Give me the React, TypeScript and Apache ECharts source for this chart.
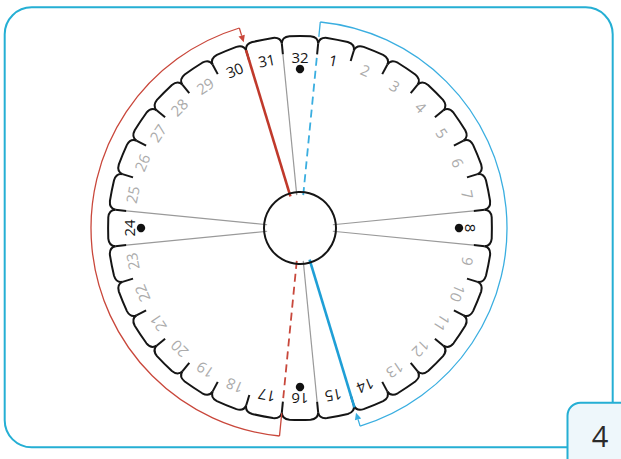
import { useEffect, useRef } from 'react';
import * as echarts from 'echarts';

// ---- data ----
const segmentLabels = ['1','2','3','4','5','6','7','8','9','10','11','12','13','14','15','16','17','18','19','20','21','22','23','24','25','26','27','28','29','30','31','32'];
const darkLabels = ['30','31','32','1','8','14','15','16','17','24'];
const dotSegments = ['8','16','24','32'];
const grayBoundaries = [7.5, 8.5, 15.5, 23.5, 24.5, 31.5];
const redSolidBoundaries = [30.5];
const redDashedBoundaries = [16.5];
const blueSolidBoundaries = [14.5];
const blueDashedBoundaries = [0.5];
const redArc = [16.5, 30.5]; // clockwise from -> to (arrow at "to")
const blueArc = [0.5, 14.5];
const pageLabel = '4';

// ---- styling / layout ----
const N = segmentLabels.length;
const R = { hub: 36, spokeIn: 33, notchIn: 174.5, v: 185.5, top: 192, label: 171, dot: 159 };
const ARC = { red: 209, blue: 207 };
const RED = '#c0392b';
const RED_ARC = '#c9473b';
const BLUE = '#1f9fd6';
const BLUE_ARC = '#3aaee0';
const FRAME = '#25afd4';

const spokeStyles: Record<string, any> = {
  gray: { stroke: '#9a9a9a', lineWidth: 1.2, r1: R.notchIn },
  redSolid: { stroke: RED, lineWidth: 2.6, r1: R.v + 0.5 },
  redDashed: { stroke: '#c8483c', lineWidth: 1.8, r1: R.notchIn, lineDash: [8, 5] },
  blueSolid: { stroke: BLUE, lineWidth: 2.6, r1: R.v + 2 },
  blueDashed: { stroke: BLUE_ARC, lineWidth: 1.8, r1: R.notchIn, lineDash: [8, 5] },
};

const spokes = [
  ...grayBoundaries.map((b) => ({ b, kind: 'gray' })),
  ...redSolidBoundaries.map((b) => ({ b, kind: 'redSolid' })),
  ...redDashedBoundaries.map((b) => ({ b, kind: 'redDashed' })),
  ...blueSolidBoundaries.map((b) => ({ b, kind: 'blueSolid' })),
  ...blueDashedBoundaries.map((b) => ({ b, kind: 'blueDashed' })),
];

const arcs = [
  { range: redArc, r: ARC.red, color: RED_ARC, startEnd: R.v + 0.5, arrowEnd: 194 },
  { range: blueArc, r: ARC.blue, color: BLUE_ARC, startEnd: 192, arrowEnd: 193 },
];

const wrap = (a: number) => ((a % N) + N) % N;

export default function App() {
  const ref = useRef<HTMLDivElement>(null);
  useEffect(() => {
    const chart = echarts.init(ref.current!, null, { renderer: 'svg' });
    const mk = (api: any) => (r: number, a: number) => api.coord([r, wrap(a)]);
    const fmt = (p: number[]) => `${p[0].toFixed(2)} ${p[1].toFixed(2)}`;

    const option: any = {
      animation: false,
      polar: { center: [300, 228], radius: 230 },
      angleAxis: {
        type: 'value', min: 0, max: N, startAngle: 90, clockwise: true,
        axisLine: { show: false }, axisTick: { show: false }, axisLabel: { show: false }, splitLine: { show: false },
      },
      radiusAxis: {
        type: 'value', min: 0, max: 230,
        axisLine: { show: false }, axisTick: { show: false }, axisLabel: { show: false }, splitLine: { show: false },
      },
      graphic: [
        { type: 'rect', shape: { x: 4.7, y: 7.3, width: 608, height: 440, r: 27 }, style: { fill: 'none', stroke: FRAME, lineWidth: 2 }, z: 1 },
        { type: 'rect', shape: { x: 567.5, y: 402.7, width: 80, height: 80, r: [13, 0, 0, 0] }, style: { fill: '#eef7fb', stroke: FRAME, lineWidth: 2 }, z: 2 },
        { type: 'text', x: 600, y: 435, style: { text: pageLabel, fill: '#2a2a2a', fontSize: 29, fontFamily: 'Open Sans', align: 'center', verticalAlign: 'middle' }, z: 3 },
      ],
      series: [
        {
          type: 'custom', coordinateSystem: 'polar', silent: true,
          data: segmentLabels.map((_, i) => [R.top, i + 1]),
          renderItem: (params: any, api: any) => {
            const P = mk(api);
            const k = params.dataIndex + 1;
            const a0 = k - 0.5, a1 = k + 0.5;
            const p0 = P(R.v, a0), c1 = P(191.8, a0 + 0.02), p1 = P(R.top, a0 + 0.22);
            const mid = P(R.top / Math.cos((0.28 * Math.PI) / N), k);
            const p2 = P(R.top, a1 - 0.22), c2 = P(191.8, a1 - 0.02), p3 = P(R.v, a1);
            const n0 = P(R.notchIn, a1), n1 = P(R.v, a1);
            return {
              type: 'group',
              children: [
                { type: 'path', shape: { pathData: `M${fmt(p0)} Q${fmt(c1)} ${fmt(p1)} Q${fmt(mid)} ${fmt(p2)} Q${fmt(c2)} ${fmt(p3)}` }, style: { fill: 'none', stroke: '#151515', lineWidth: 2 } },
                { type: 'line', shape: { x1: n0[0], y1: n0[1], x2: n1[0], y2: n1[1] }, style: { stroke: '#151515', lineWidth: 2 } },
              ],
            };
          },
        },
        {
          type: 'custom', coordinateSystem: 'polar', silent: true,
          data: spokes.map((s) => [R.spokeIn, s.b]),
          renderItem: (params: any, api: any) => {
            const P = mk(api);
            const s = spokes[params.dataIndex];
            const st = spokeStyles[s.kind];
            const a = P(R.spokeIn, s.b), b = P(st.r1, s.b);
            return { type: 'line', shape: { x1: a[0], y1: a[1], x2: b[0], y2: b[1] }, style: { stroke: st.stroke, lineWidth: st.lineWidth, lineDash: st.lineDash || null, fill: 'none' } };
          },
        },
        {
          type: 'custom', coordinateSystem: 'polar', silent: true,
          data: [[0, 0]],
          renderItem: (params: any, api: any) => {
            const c = api.coord([0, 0]);
            const e = api.coord([R.hub, 0]);
            const r = Math.hypot(e[0] - c[0], e[1] - c[1]);
            return { type: 'circle', shape: { cx: c[0], cy: c[1], r }, style: { fill: 'none', stroke: '#151515', lineWidth: 2 } };
          },
        },
        {
          type: 'custom', coordinateSystem: 'polar', silent: true,
          data: segmentLabels.map((_, i) => [R.label, i + 1]),
          renderItem: (params: any, api: any) => {
            const label = segmentLabels[params.dataIndex];
            const k = params.dataIndex + 1;
            const c = api.coord([0, 0]);
            const p = api.coord([R.label, wrap(k)]);
            const theta = Math.atan2(p[0] - c[0], -(p[1] - c[1]));
            const dark = darkLabels.includes(label);
            return {
              type: 'text', x: p[0], y: p[1], rotation: -theta,
              style: { text: label, fill: dark ? '#151515' : '#ababab', fontSize: 15, fontFamily: 'Open Sans', align: 'center', verticalAlign: 'middle' },
            };
          },
        },
        {
          type: 'custom', coordinateSystem: 'polar', silent: true,
          data: dotSegments.map((s) => [R.dot, Number(s)]),
          renderItem: (params: any, api: any) => {
            const k = Number(dotSegments[params.dataIndex]);
            const p = api.coord([R.dot, wrap(k)]);
            return { type: 'circle', shape: { cx: p[0], cy: p[1], r: 4.2 }, style: { fill: '#111' } };
          },
        },
        {
          type: 'custom', coordinateSystem: 'polar', silent: true,
          data: arcs.map((a) => [a.r, a.range[0]]),
          renderItem: (params: any, api: any) => {
            const P = mk(api);
            const arc = arcs[params.dataIndex];
            const c = api.coord([0, 0]);
            const s = P(arc.r, arc.range[0]);
            const e = P(arc.r, arc.range[1]);
            const ang = (p: number[]) => Math.atan2(p[1] - c[1], p[0] - c[0]);
            const sIn = P(arc.startEnd, arc.range[0]);
            const tip = P(arc.arrowEnd, arc.range[1]);
            const base = P(arc.arrowEnd + 7, arc.range[1]);
            const ux = tip[0] - base[0], uy = tip[1] - base[1];
            const L = Math.hypot(ux, uy);
            const px = -uy / L * 3.3, py = ux / L * 3.3;
            return {
              type: 'group',
              children: [
                { type: 'arc', shape: { cx: c[0], cy: c[1], r: Math.hypot(s[0] - c[0], s[1] - c[1]), startAngle: ang(s), endAngle: ang(e), clockwise: true }, style: { fill: 'none', stroke: arc.color, lineWidth: 1.3 } },
                { type: 'line', shape: { x1: s[0], y1: s[1], x2: sIn[0], y2: sIn[1] }, style: { stroke: arc.color, lineWidth: 1.3 } },
                { type: 'line', shape: { x1: e[0], y1: e[1], x2: base[0], y2: base[1] }, style: { stroke: arc.color, lineWidth: 1.3 } },
                { type: 'polygon', shape: { points: [tip, [base[0] + px, base[1] + py], [base[0] - px, base[1] - py]] }, style: { fill: arc.color } },
              ],
            };
          },
        },
      ],
    };
    chart.setOption(option);
    return () => chart.dispose();
  }, []);
  return <div ref={ref} style={{ position: 'fixed', left: 0, top: 0, width: 621, height: 459, background: '#fff' }} />;
}
